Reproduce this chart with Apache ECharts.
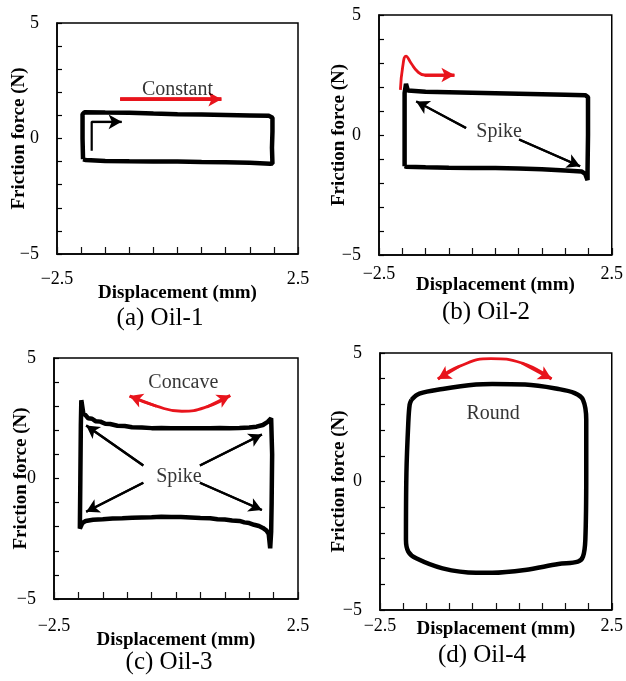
<!DOCTYPE html>
<html>
<head>
<meta charset="utf-8">
<script src="https://cdn.jsdelivr.net/npm/echarts@6/dist/echarts.min.js"></script>
<style>
html,body{margin:0;padding:0;background:#fff;}
#chart{width:626px;height:681px;}
</style>
</head>
<body>
<div id="chart"></div>
<script>
// ---------- data ----------
const captions = ['(a) Oil-1', '(b) Oil-2', '(c) Oil-3', '(d) Oil-4'];
const xName = 'Displacement (mm)';
const yName = 'Friction force (N)';
const xLabelValues = [-2.5, 2.5];
const yLabelValues = [-5, 0, 5];

// friction loops [displacement, force]
const oil1Loop = [[-1.96,-0.90],[-1.97,0.0],[-1.97,1.05],[-1.93,1.14],[-1.5,1.13],[-1.0,1.12],[-0.5,1.08],[0,1.05],[0.5,1.04],[1.0,1.02],[1.5,1.0],[1.90,0.98],[1.97,0.90],[1.97,0.3],[1.96,-0.4],[1.97,-1.08],[1.92,-1.09],[1.5,-1.05],[1.0,-1.03],[0.5,-1.02],[0,-1.0],[-0.5,-1.0],[-1.0,-0.99],[-1.5,-0.97],[-1.90,-0.93],[-1.96,-0.90]];
const oil2Loop = [[-1.95,-1.30],[-1.95,0.0],[-1.95,1.75],[-1.92,2.13],[-1.88,1.85],[-1.5,1.80],[-1.0,1.78],[-0.5,1.76],[0,1.74],[0.5,1.72],[1.0,1.70],[1.5,1.68],[1.93,1.66],[1.99,1.58],[1.99,0.0],[1.98,-1.45],[1.98,-1.88],[1.93,-1.62],[1.85,-1.52],[1.5,-1.48],[1.0,-1.43],[0.5,-1.40],[0,-1.38],[-0.5,-1.37],[-1.0,-1.36],[-1.5,-1.34],[-1.92,-1.32],[-1.95,-1.30]];
const oil3Loop = [[-1.95,2.2],[-1.94,3.25],[-1.90,2.70],[-1.85,2.62],[-1.80,2.50],[-1.72,2.48],[-1.65,2.38],[-1.55,2.36],[-1.45,2.27],[-1.35,2.26],[-1.2,2.19],[-1.05,2.18],[-0.9,2.13],[-0.7,2.12],[-0.5,2.09],[-0.3,2.10],[-0.1,2.08],[0.1,2.09],[0.3,2.08],[0.5,2.09],[0.7,2.08],[0.9,2.10],[1.1,2.09],[1.3,2.10],[1.5,2.12],[1.65,2.15],[1.78,2.22],[1.88,2.35],[1.95,2.50],[1.97,2.55],[1.97,1.0],[1.96,-1.0],[1.95,-2.2],[1.93,-2.90],[1.90,-2.30],[1.85,-2.15],[1.78,-2.05],[1.70,-1.97],[1.60,-1.92],[1.50,-1.85],[1.40,-1.82],[1.30,-1.76],[1.15,-1.74],[1.0,-1.70],[0.85,-1.69],[0.7,-1.65],[0.5,-1.64],[0.3,-1.62],[0.1,-1.60],[-0.1,-1.60],[-0.3,-1.59],[-0.5,-1.61],[-0.7,-1.62],[-0.9,-1.63],[-1.1,-1.65],[-1.3,-1.66],[-1.5,-1.69],[-1.7,-1.71],[-1.85,-1.76],[-1.92,-1.85],[-1.97,-2.08],[-1.96,0.0],[-1.95,2.2]];
const oil4Loop = [[-1.82,3.18],[-1.65,3.42],[-1.15,3.60],[-0.43,3.77],[-0.08,3.79],[0.63,3.77],[1.35,3.60],[1.70,3.44],[1.88,3.18],[1.95,2.40],[1.95,0.32],[1.93,-2.27],[1.88,-2.92],[1.77,-3.12],[1.35,-3.21],[0.63,-3.44],[-0.08,-3.55],[-0.43,-3.55],[-1.15,-3.38],[-1.72,-2.99],[-1.89,-2.73],[-1.94,-2.27],[-1.93,0.32],[-1.89,2.27],[-1.86,2.99],[-1.82,3.18]];

// annotation arrows (data coordinates)
const oil1Arrows = {red: [[[-1.19,1.70],[0.91,1.70]]], black: [[[-1.78,-0.53],[-1.78,0.72],[-1.16,0.72]]]};
const oil2Arrows = {red: [[[-2.04,1.88],[-1.99,2.85],[-1.92,3.29],[-1.81,2.99],[-1.67,2.64],[-1.52,2.50],[-0.88,2.50]]], black: [[[-0.63,0.29],[-1.70,1.40]],[[0.51,-0.19],[1.82,-1.30]]]};
const oil3Arrows = {red: [[[-0.95,3.42],[-0.40,3.0],[0.12,2.79],[0.63,2.97],[1.11,3.44]]], black: [[[-0.67,0.54],[-1.84,2.2]],[[0.49,0.54],[1.76,1.83]],[[-0.67,-0.18],[-1.84,-1.38]],[[0.49,-0.18],[1.76,-1.31]]]};
const oil4Arrows = {red: [[[-1.25,3.99],[-0.79,4.48],[-0.11,4.78],[0.56,4.61],[1.20,3.99]]], black: []};

// annotation texts
const oil1Notes = [{name:'Constant', value:[0.0, 2.1]}];
const oil2Notes = [{name:'Spike', value:[0.08, 0.15]}];
const oil3Notes = [{name:'Concave', value:[0.15, 3.97]}, {name:'Spike', value:[0.06, 0.07]}];
const oil4Notes = [{name:'Round', value:[-0.06, 2.64]}];

// ---------- layout ----------
const serif = 'Liberation Serif';
const RED = '#e8141c';
const panels = [
  {grid:{left:57, top:23, width:241, height:231}, xm:16, xg:30, yg:28, loop:oil1Loop, arrows:oil1Arrows, notes:oil1Notes, smooth:false, redBoth:false, redW:3.6, cap:[160,318]},
  {grid:{left:379, top:15, width:235, height:240}, xm:10, xg:21, yg:30, loop:oil2Loop, arrows:oil2Arrows, notes:oil2Notes, smooth:false, redBoth:false, redW:2.8, cap:[486,312]},
  {grid:{left:54, top:358, width:244, height:241}, xm:18, xg:32, yg:23, loop:oil3Loop, arrows:oil3Arrows, notes:oil3Notes, smooth:false, redBoth:true, redW:2.8, cap:[169,662]},
  {grid:{left:380, top:353, width:234, height:257}, xm:7, xg:10, yg:31, loop:oil4Loop, arrows:oil4Arrows, notes:oil4Notes, smooth:0.35, redBoth:true, redW:2.8, cap:[482,655]}
];

const grids = [], xAxes = [], yAxes = [], series = [], graphics = [];

function arrowSeries(i, pts, color, width, both, smooth) {
  const n = pts.length;
  const ml = [[{coord: pts[n-2], symbol:'none'}, {coord: pts[n-1], symbol:'arrow'}]];
  if (both) ml.push([{coord: pts[1], symbol:'none'}, {coord: pts[0], symbol:'arrow'}]);
  return {
    type:'line', xAxisIndex:i, yAxisIndex:i, data:pts, showSymbol:false, symbol:'none',
    smooth: smooth, lineStyle:{color:color, width:width}, z:4, silent:true,
    markLine:{silent:true, symbolSize:[11,13], label:{show:false},
      lineStyle:{color:color, width:width, type:'solid'}, emphasis:{disabled:true}, data: ml}
  };
}

const fmt = (vals) => (v => vals.includes(v) ? String(v).replace('-', '\u2212') : '');

panels.forEach((p, i) => {
  grids.push(Object.assign({show:true, borderColor:'#000', borderWidth:1.5}, p.grid));
  xAxes.push({
    type:'value', gridIndex:i, min:-2.5, max:2.5, interval:0.5,
    axisLine:{show:true, onZero:false, lineStyle:{color:'#000', width:1.5}},
    axisTick:{show:true, inside:true, length:7, lineStyle:{color:'#111', width:1.2}},
    minorTick:{show:false},
    splitLine:{show:false},
    axisLabel:{margin:p.xm, color:'#000', fontFamily:serif, fontSize:18, formatter: fmt(xLabelValues)},
    name:xName, nameLocation:'middle', nameGap:p.xg, nameMoveOverlap:false,
    nameTextStyle:{color:'#000', fontFamily:serif, fontWeight:'bold', fontSize:19}
  });
  yAxes.push({
    type:'value', gridIndex:i, min:-5, max:5, interval:1,
    axisLine:{show:true, onZero:false, lineStyle:{color:'#000', width:1.5}},
    axisTick:{show:true, inside:true, length:5, lineStyle:{color:'#000', width:1.2}},
    splitLine:{show:false},
    axisLabel:{margin:18, color:'#000', fontFamily:serif, fontSize:18, formatter: fmt(yLabelValues)},
    name:yName, nameLocation:'middle', nameGap:p.yg, nameMoveOverlap:false,
    nameTextStyle:{color:'#000', fontFamily:serif, fontWeight:'bold', fontSize:19}
  });
  series.push({
    type:'line', xAxisIndex:i, yAxisIndex:i, data:p.loop, showSymbol:false, symbol:'none',
    smooth:p.smooth, lineStyle:{color:'#000', width:4.5}, z:3, silent:true
  });
  p.arrows.red.forEach(a => series.push(arrowSeries(i, a, RED, p.redW, p.redBoth, a.length > 2)));
  p.arrows.black.forEach(a => series.push(arrowSeries(i, a, '#000', 2.2, false, false)));
  series.push({
    type:'scatter', xAxisIndex:i, yAxisIndex:i, data:p.notes, symbolSize:1,
    itemStyle:{color:'rgba(0,0,0,0)'}, z:5, silent:true,
    label:{show:true, position:'inside', formatter:'{b}', color:'#000', fontFamily:serif, fontSize:20}
  });
  graphics.push({type:'text', x:p.cap[0], y:p.cap[1], style:{text:captions[i], fill:'#000',
    font:'25px ' + serif, textAlign:'center', textVerticalAlign:'middle'}});
});

const chart = echarts.init(document.getElementById('chart'));
chart.setOption({
  animation:false,
  backgroundColor:'#fff',
  grid:grids, xAxis:xAxes, yAxis:yAxes, series:series, graphic:graphics
});
</script>
</body>
</html>
